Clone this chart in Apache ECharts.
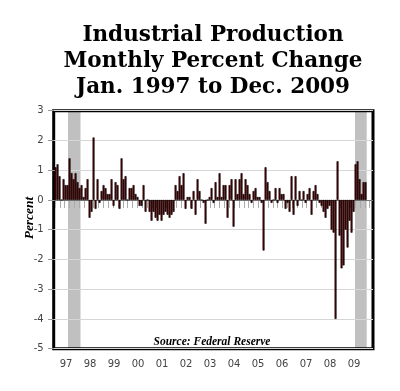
<!DOCTYPE html>
<html><head><meta charset="utf-8">
<script src="https://cdn.jsdelivr.net/npm/echarts@6/dist/echarts.min.js"></script>
<style>html,body{margin:0;padding:0;background:#fff}#c{width:400px;height:391px}</style>
</head><body><div id="c"></div>
<script>
// Year tick labels
const yearLabels = ['97','98','99','00','01','02','03','04','05','06','07','08','09'];
// Monthly percent change, Jan..Dec of each year
const v1997 = [1.1, 1.2, 0.8, 0.0, 0.7, 0.5, 0.5, 1.4, 0.9, 0.7, 0.9, 0.6];
const v1998 = [0.4, 0.5, 0.1, 0.4, 0.7, -0.6, -0.4, 2.1, -0.3, 0.7, -0.1, 0.3];
const v1999 = [0.5, 0.4, 0.2, 0.2, 0.7, -0.2, 0.6, 0.5, -0.3, 1.4, 0.7, 0.8];
const v2000 = [0.0, 0.4, 0.4, 0.5, 0.2, 0.1, -0.2, -0.2, 0.5, -0.4, 0.0, -0.4];
const v2001 = [-0.7, -0.4, -0.6, -0.7, -0.5, -0.7, -0.5, -0.4, -0.5, -0.6, -0.5, -0.4];
const v2002 = [0.5, 0.3, 0.8, 0.5, 0.9, -0.3, 0.1, 0.1, -0.3, 0.3, -0.5, 0.7];
const v2003 = [0.3, 0.0, -0.1, -0.8, 0.0, 0.1, 0.4, -0.1, 0.6, 0.1, 0.9, 0.1];
const v2004 = [0.5, 0.5, -0.6, 0.5, 0.7, -0.9, 0.7, 0.2, 0.7, 0.9, 0.2, 0.7];
const v2005 = [0.5, 0.2, -0.1, 0.3, 0.4, 0.1, 0.1, -0.1, -1.7, 1.1, 0.6, 0.3];
const v2006 = [-0.1, 0.0, 0.4, -0.1, 0.4, 0.2, 0.2, -0.3, -0.1, -0.4, 0.8, -0.5];
const v2007 = [0.8, -0.2, 0.3, 0.0, 0.3, -0.1, 0.2, 0.4, -0.5, 0.3, 0.5, 0.2];
const v2008 = [-0.1, -0.2, -0.4, -0.6, -0.3, -0.2, -1.0, -1.1, -4.0, 1.3, -1.2, -2.3];
const v2009 = [-2.2, -1.0, -1.6, -0.7, -1.1, -0.4, 1.2, 1.3, 0.7, 0.2, 0.6, 0.6];
// Shaded bands, in months from Jan 1997
const bandStart = [7.0, 150.5];
const bandEnd = [13.25, 156.35];
// Y ticks
const yMin = -5, yMax = 3, yStep = 1;
// Bottom tick marks spacing (months)
const tickFirst = 0.5, tickStep = 2.42, tickCount = 66;

const years = [v1997,v1998,v1999,v2000,v2001,v2002,v2003,v2004,v2005,v2006,v2007,v2008,v2009];
const barData = [];
years.forEach((arr, y) => arr.forEach((v, m) => barData.push([y*12 + m + 0.5, v])));
const labelVals = yearLabels.map((_, k) => k*12 + 6);
const tickVals = [];
for (let k = 0; k < tickCount; k++) tickVals.push(+(tickFirst + k*tickStep).toFixed(2));

const chart = echarts.init(document.getElementById('c'), null, {renderer: 'canvas'});
chart.setOption({
  animation: false,
  backgroundColor: '#fff',
  title: [{
    text: 'Industrial Production\nMonthly Percent Change\nJan. 1997 to Dec. 2009',
    left: 213, top: 22, textAlign: 'center', padding: 0,
    textStyle: {fontFamily: 'DejaVu Serif', fontWeight: 'bold', fontSize: 21.5, lineHeight: 26, color: '#000'}
  }, {
    text: 'Source: Federal Reserve',
    left: 212, top: 335, textAlign: 'center', padding: 0,
    textStyle: {fontFamily: 'Liberation Serif', fontStyle: 'italic', fontWeight: 'bold', fontSize: 11.5, lineHeight: 14, color: '#000'}
  }],
  graphic: [{
    type: 'text', x: 30, y: 218, rotation: Math.PI/2,
    style: {text: 'Percent', textAlign: 'center', textVerticalAlign: 'middle',
      font: 'italic bold 13.5px "Liberation Serif"', fill: '#000'}
  }],
  grid: {left: 53.7, top: 110.7, width: 319.3, height: 238, show: true,
    borderColor: '#000', borderWidth: 3, backgroundColor: 'transparent', containLabel: false},
  xAxis: {
    type: 'value', min: -0.15, max: 159.5,
    axisLine: {show: false}, splitLine: {show: false},
    axisTick: {show: true, customValues: tickVals, length: 8, lineStyle: {color: '#aaa', width: 1}},
    axisLabel: {show: true, customValues: labelVals, margin: 11,
      fontFamily: 'DejaVu Sans', fontSize: 10, color: '#444',
      formatter: v => yearLabels[Math.round((v - 6)/12)] || ''}
  },
  yAxis: {
    type: 'value', min: yMin, max: yMax, interval: yStep,
    axisLine: {show: false},
    axisTick: {show: true, length: 6, lineStyle: {color: '#999'}},
    axisLabel: {fontFamily: 'DejaVu Sans', fontSize: 10, color: '#444', margin: 10},
    splitLine: {lineStyle: {color: '#d6d6d6', width: 1}}
  },
  series: [{
    type: 'bar', data: [], z: -1, silent: true,
    markArea: {silent: true, z: -1, itemStyle: {color: '#c0c0c0'},
      data: bandStart.map((s, k) => [{xAxis: s}, {xAxis: bandEnd[k]}])}
  }, {
    type: 'bar', data: barData, barWidth: 2, z: 3, large: false,
    itemStyle: {color: '#5a0000', borderColor: '#000', borderWidth: 0.6, opacity: 1},
    markLine: {silent: true, symbol: 'none', label: {show: false}, z: 2,
      lineStyle: {color: '#777', width: 1, type: 'solid'}, data: [{yAxis: 0}]}
  }]
});
</script></body></html>
